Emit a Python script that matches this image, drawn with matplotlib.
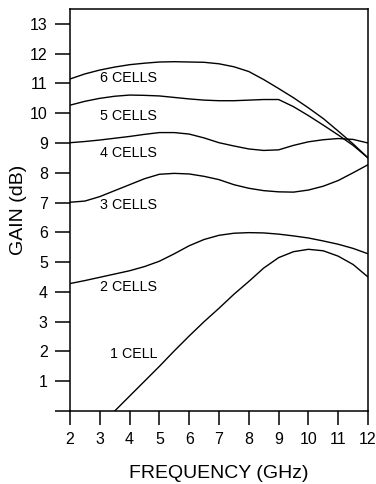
import matplotlib
matplotlib.use("Agg")
import matplotlib.pyplot as plt

plt.rcParams['font.family'] = ['Liberation Sans', 'DejaVu Sans']

# Frequency grid (GHz) for the multi-cell curves
freq = [2.0, 2.5, 3.0, 3.5, 4.0, 4.5, 5.0, 5.5, 6.0, 6.5, 7.0,
        7.5, 8.0, 8.5, 9.0, 9.5, 10.0, 10.5, 11.0, 11.5, 12.0]

gain_6 = [11.15, 11.32, 11.45, 11.55, 11.63, 11.68, 11.72, 11.73, 11.72, 11.71, 11.66,
          11.56, 11.40, 11.13, 10.83, 10.52, 10.18, 9.82, 9.40, 8.97, 8.50]
gain_5 = [10.27, 10.40, 10.50, 10.57, 10.61, 10.60, 10.58, 10.53, 10.48, 10.44, 10.42,
          10.42, 10.44, 10.46, 10.46, 10.22, 9.92, 9.60, 9.27, 8.92, 8.50]
gain_4 = [9.01, 9.05, 9.10, 9.16, 9.22, 9.29, 9.35, 9.35, 9.30, 9.17, 9.01,
          8.90, 8.80, 8.75, 8.77, 8.92, 9.04, 9.11, 9.15, 9.12, 9.00]
gain_3 = [7.01, 7.05, 7.20, 7.40, 7.60, 7.80, 7.95, 7.98, 7.96, 7.88, 7.77,
          7.60, 7.48, 7.40, 7.36, 7.35, 7.42, 7.55, 7.74, 8.00, 8.27]
gain_2 = [4.28, 4.38, 4.49, 4.60, 4.71, 4.85, 5.03, 5.28, 5.55, 5.76, 5.90,
          5.97, 5.99, 5.98, 5.94, 5.88, 5.81, 5.71, 5.60, 5.46, 5.28]

# Single cell response starts at 3.5 GHz
freq_1 = [3.5, 4.0, 4.5, 5.0, 5.5, 6.0, 6.5, 7.0, 7.5, 8.0,
          8.5, 9.0, 9.5, 10.0, 10.5, 11.0, 11.5, 12.0]
gain_1 = [0.0, 0.5, 1.0, 1.5, 2.02, 2.52, 3.0, 3.45, 3.92, 4.35,
          4.8, 5.15, 5.35, 5.43, 5.38, 5.2, 4.92, 4.5]

labels = ["6 CELLS", "5 CELLS", "4 CELLS", "3 CELLS", "2 CELLS", "1 CELL"]
label_x = [3.0, 3.0, 3.0, 3.0, 3.0, 3.34]
label_y = [11.17, 9.9, 8.68, 6.92, 4.16, 1.91]

x_ticks = list(range(2, 13))
y_ticks = list(range(0, 14))
y_tick_labels = [""] + [str(v) for v in range(1, 14)]

fig = plt.figure(figsize=(3.76, 4.84), dpi=100)
ax = fig.add_axes([70 / 376, 1 - 411 / 484, 298 / 376, 402 / 484])

for ys in (gain_6, gain_5, gain_4, gain_3, gain_2):
    ax.plot(freq, ys, color="black", lw=1.0)
ax.plot(freq_1, gain_1, color="black", lw=1.0)

for txt, lx, ly in zip(labels, label_x, label_y):
    ax.text(lx, ly, txt, fontsize=10.3, ha="left", va="center")

ax.set_xlim(2, 12)
ax.set_ylim(0, 13.5)
ax.set_xticks(x_ticks)
ax.set_xticklabels([str(v) for v in x_ticks])
ax.set_yticks(y_ticks)
ax.set_yticklabels(y_tick_labels)

for sp in ax.spines.values():
    sp.set_linewidth(1.1)

ax.tick_params(axis="y", direction="out", length=11, width=1.1, pad=5, labelsize=11.5)
ax.tick_params(axis="x", direction="out", length=10, width=1.1, pad=5, labelsize=11.5)

ax.set_xlabel("FREQUENCY (GHz)", fontsize=14, labelpad=13)
ax.set_ylabel("GAIN (dB)", fontsize=14, labelpad=2)

fig.savefig("out.png", dpi=100)
